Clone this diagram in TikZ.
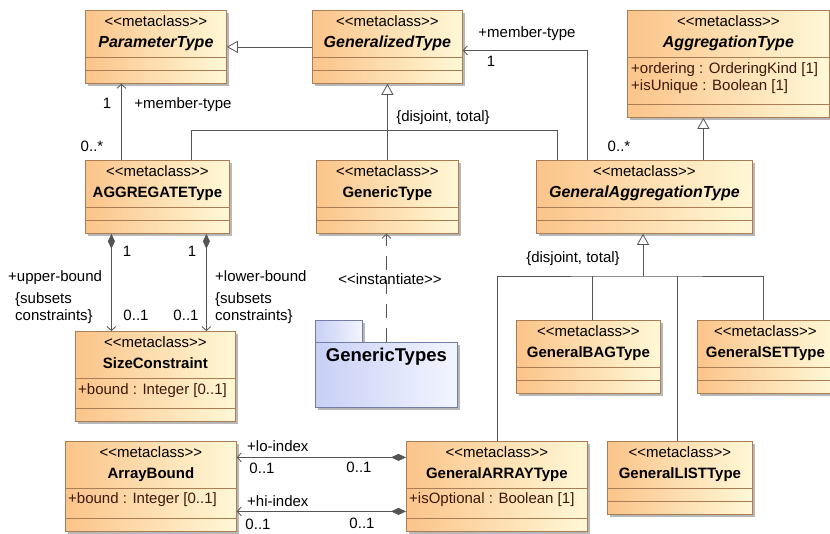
\documentclass[tikz,border=0pt]{standalone}
\usepackage{fontspec}
\setmainfont{Liberation Sans}
\usepackage{tikz}
\usetikzlibrary{arrows.meta}
\usetikzlibrary{shadows}
\definecolor{cls_left}{RGB}{251,196,138}
\definecolor{cls_right}{RGB}{255,248,214}
\definecolor{cls_border}{RGB}{170,125,85}
\definecolor{pkg_left}{RGB}{200,208,245}
\definecolor{pkg_right}{RGB}{243,245,255}
\definecolor{pkg_border}{RGB}{115,125,165}
\definecolor{line_gray}{RGB}{85,85,85}
\definecolor{attr_col}{RGB}{60,25,10}
\tikzset{ meta_class/.style = {rectangle, draw=cls_border, line width=0.8pt, left color=cls_left, right color=cls_right, inner sep=0pt, anchor=north west, drop shadow={shadow xshift=2.5pt, shadow yshift=-2.5pt, fill=black!28, opacity=1}} }
\tikzset{ pkg_box/.style = {rectangle, draw=pkg_border, line width=0.8pt, left color=pkg_left, right color=pkg_right, inner sep=0pt, anchor=north west, drop shadow={shadow xshift=2.5pt, shadow yshift=-2.5pt, fill=black!28, opacity=1}} }
\tikzset{ split_line/.style = {draw=cls_border, line width=0.8pt} }
\tikzset{ uml_txt/.style = {inner sep=0pt, font=\fontsize{15}{17}\selectfont, text height=10.5pt, text depth=3pt} }
\tikzset{ cls_name/.style = {uml_txt, font=\fontsize{15}{17}\selectfont\bfseries} }
\tikzset{ attr_txt/.style = {uml_txt, anchor=west, text=attr_col} }
\tikzset{ conn/.style = {draw=line_gray, line width=0.8pt} }
\tikzset{ gen_line/.style = {conn, -{Triangle[open, length=11pt, width=12pt, fill=white]}} }
\tikzset{ assoc_line/.style = {conn, -{Straight Barb[length=4pt, width=9pt]}} }
\tikzset{ comp_line/.style = {conn, {Diamond[length=15pt, width=7pt, fill=line_gray]}-{Straight Barb[length=4pt, width=9pt]}} }
\tikzset{ dep_line/.style = {assoc_line, dash pattern=on 14pt off 10pt} }
\newcommand{\mcstereo}{<\kern0pt<metaclass>\kern0pt>}
\newcommand{\abst}[1]{{\fontsize{16}{18}\selectfont\itshape #1}}
\newcommand{\metaclass}[6]{%
  \node[meta_class, minimum width=#4pt, minimum height=#5pt] (#1) at (#2,#3) {};
  \node[uml_txt] (#1_st) at ([yshift=-13pt]#1.north) {\mcstereo};
  \node[cls_name] (#1_nm) at ([yshift=-34pt]#1.north) {#6};
  \draw[split_line] ([yshift=-47pt]#1.north west) -- ([yshift=-47pt]#1.north east);
  \draw[split_line] ([yshift=13pt]#1.south west) -- ([yshift=13pt]#1.south east);
}

\begin{document}
\begin{tikzpicture}[x=1pt, y=-1pt]
        \useasboundingbox (0,0) rectangle (830,533);
        \clip (0,0) rectangle (830,533);
        \metaclass{PT}{85}{10}{141}{73}{\abst{ParameterType}}
        \metaclass{GT}{312}{10}{150}{73}{\abst{GeneralizedType}}
        \metaclass{AT}{627}{10}{202}{107}{\abst{AggregationType}}
        \node[attr_txt] (AT_a1) at ([xshift=4pt, yshift=-60pt]AT.north west) {+ordering : OrderingKind [1]};
        \node[attr_txt] (AT_a2) at ([xshift=4pt, yshift=-77pt]AT.north west) {+isUnique : Boolean [1]};
        \metaclass{AGT}{85}{160}{144}{73}{AGGREGATEType}
        \metaclass{GNT}{316}{160}{142}{73}{GenericType}
        \metaclass{GAT}{536}{160}{216}{73}{\abst{GeneralAggregationType}}
        \metaclass{SC}{75}{331}{160}{90}{SizeConstraint}
        \node[attr_txt] (SC_a1) at ([xshift=3pt, yshift=-60pt]SC.north west) {+bound : Integer [0..1]};
        \metaclass{GBT}{516}{320}{144}{73}{GeneralBAGType}
        \metaclass{GST}{697}{320}{136}{73}{GeneralSETType}
        \metaclass{AB}{65}{441}{171}{90}{ArrayBound}
        \node[attr_txt] (AB_a1) at ([xshift=3pt, yshift=-59pt]AB.north west) {+bound : Integer [0..1]};
        \metaclass{GAR}{406}{441}{181}{90}{GeneralARRAYType}
        \node[attr_txt] (GAR_a1) at ([xshift=3pt, yshift=-59pt]GAR.north west) {+isOptional : Boolean [1]};
        \metaclass{GLT}{607}{441}{145}{73}{GeneralLISTType}
        \node[pkg_box, minimum width=47pt, minimum height=23pt] (GPtab) at (315,320) {};
        \node[pkg_box, minimum width=142pt, minimum height=65pt] (GP) at (315,342) {};
        \node[uml_txt, font=\fontsize{18.5}{20}\selectfont\bfseries] (GP_nm) at ([yshift=-16pt]GP.north) {GenericTypes};

        \draw[gen_line] (GT) -- (PT);
        \draw[gen_line] (GNT) -- (GT);
        \draw[conn] ([xshift=34pt]AGT.north) -- ++(0,-30) -| ([xshift=-87pt]GAT.north);
        \draw[assoc_line] ([xshift=-36pt]AGT.north) -- ([xshift=-36pt]AGT.north |- PT.south);
        \draw[assoc_line] ([xshift=-57pt]GAT.north) |- ([yshift=-3.5pt]GT.east);
        \draw[gen_line] ([xshift=59pt]GAT.north) -- ([xshift=59pt]GAT.north |- AT.south);
        \draw[comp_line] ([xshift=-46pt]AGT.south) -- ([xshift=-46pt]AGT.south |- SC.north);
        \draw[comp_line] ([xshift=49pt]AGT.south) -- ([xshift=49pt]AGT.south |- SC.north);
        \draw[dep_line] (GP.north) -- (GP.north |- GNT.south);
        \coordinate (J2) at (643,276);
        \draw[gen_line] (J2) -- (J2 |- GAT.south);
        \draw[conn] (GAR.north) |- (J2) -| ([xshift=-2pt]GST.north);
        \draw[conn] ([xshift=4pt]GBT.north) -- ([xshift=4pt]GBT.north |- J2);
        \draw[conn] ([xshift=-2.5pt]GLT.north) -- ([xshift=-2.5pt]GLT.north |- J2);
        \draw[comp_line] ([yshift=29pt]GAR.west) -- ([yshift=29pt]GAR.west -| AB.east);
        \draw[comp_line] ([yshift=-25pt]GAR.west) -- ([yshift=-25pt]GAR.west -| AB.east);

        \node[uml_txt] (l1) at (107,105) {1};
        \node[uml_txt] (l2) at (183,105) {+member-type};
        \node[uml_txt] (l3) at (92,148) {0..*};
        \node[uml_txt] (l4) at (443,118) {\{disjoint, total\}};
        \node[uml_txt] (l5) at (527,34) {+member-type};
        \node[uml_txt] (l6) at (491,63) {1};
        \node[uml_txt] (l7) at (619,148) {0..*};
        \node[uml_txt] (l8) at (573,259) {\{disjoint, total\}};
        \node[uml_txt] (l9) at (127,253) {1};
        \node[uml_txt] (l10) at (192,253) {1};
        \node[uml_txt, anchor=west] (l11) at (8,278) {+upper-bound};
        \node[uml_txt, anchor=west] (l12) at (15,300) {\{subsets};
        \node[uml_txt, anchor=west] (l13) at (15,317) {constraints\}};
        \node[uml_txt] (l14) at (136,317) {0..1};
        \node[uml_txt] (l15) at (186,317) {0..1};
        \node[uml_txt, anchor=west] (l16) at (215,278) {+lower-bound};
        \node[uml_txt, anchor=west] (l17) at (215,300) {\{subsets};
        \node[uml_txt, anchor=west] (l18) at (215,317) {constraints\}};
        \node[uml_txt] (l19) at (390,281) {<\kern0pt<instantiate>\kern0pt>};
        \node[uml_txt, anchor=west] (l20) at (247,448) {+lo-index};
        \node[uml_txt] (l21) at (262,470) {0..1};
        \node[uml_txt] (l22) at (359,469) {0..1};
        \node[uml_txt, anchor=west] (l23) at (247,503) {+hi-index};
        \node[uml_txt] (l24) at (258,526) {0..1};
        \node[uml_txt] (l25) at (362,525) {0..1};
\end{tikzpicture}
\end{document}
